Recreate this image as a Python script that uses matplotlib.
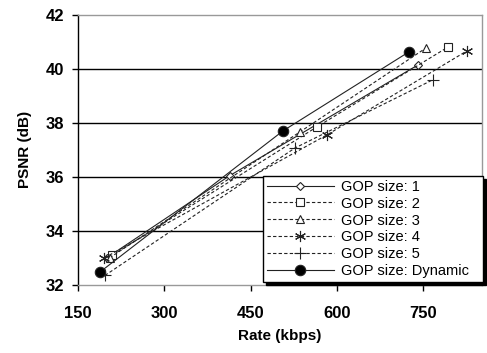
import matplotlib
matplotlib.use("Agg")
import matplotlib.pyplot as plt

plt.rcParams['font.family'] = ['Liberation Sans', 'DejaVu Sans']

labels = ["GOP size: 1", "GOP size: 2", "GOP size: 3", "GOP size: 4", "GOP size: 5", "GOP size: Dynamic"]
rates = [
    [200, 414, 741],
    [210, 565, 793],
    [205, 536, 755],
    [196, 583, 826],
    [197, 527, 767],
    [188, 506, 725],
]
psnr = [
    [33.0, 36.05, 40.15],
    [33.1, 37.85, 40.81],
    [33.0, 37.67, 40.78],
    [33.0, 37.56, 40.67],
    [32.35, 37.07, 39.60],
    [32.47, 37.70, 40.63],
]
xticks = [150, 300, 450, 600, 750]
yticks = [32, 34, 36, 38, 40, 42]

styles = [
    dict(ls='-', marker='D', ms=4, mfc='white'),
    dict(ls=(0, (3, 2)), marker='s', ms=6, mfc='white'),
    dict(ls=(0, (3, 2)), marker='^', ms=6, mfc='white'),
    dict(ls=(0, (3, 2)), marker=(6, 2, 0), ms=8, mfc='white'),
    dict(ls=(0, (3, 2)), marker='+', ms=8, mfc='white'),
    dict(ls='-', marker='o', ms=7.5, mfc='black'),
]

fig = plt.figure(figsize=(4.87, 3.53), dpi=100)
ax = fig.add_axes([0.160, 0.193, 0.830, 0.765])

for lab, xs, ys, st in zip(labels, rates, psnr, styles):
    ax.plot(xs, ys, color='#222222', lw=0.8, mec='#222222', mew=0.8, label=lab, **st)

ax.set_xlim(150, 852)
ax.set_ylim(32, 42)
ax.set_xticks(xticks)
ax.set_yticks(yticks)
for y in yticks[1:-1]:
    ax.axhline(y, color='black', lw=1.0, zorder=0)

for s in ['top', 'right', 'bottom']:
    ax.spines[s].set_color('#999999')
    ax.spines[s].set_linewidth(1.0)
ax.spines['left'].set_color('black')
ax.spines['left'].set_linewidth(1.0)
ax.tick_params(axis='both', direction='out', length=4, width=1, color='black',
               labelsize=12)
for t in ax.get_xticklabels() + ax.get_yticklabels():
    t.set_fontweight('bold')
ax.tick_params(axis='x', pad=11)
ax.tick_params(axis='y', pad=6)

ax.set_xlabel("Rate (kbps)", fontsize=11, fontweight='bold', labelpad=6)
ax.set_ylabel("PSNR (dB)", fontsize=11, fontweight='bold', labelpad=10)

leg = ax.legend(loc='lower left', bbox_to_anchor=(0.458, 0.011, 0.545, 0.40),
                mode='expand', borderaxespad=0, fontsize=10.5, frameon=True,
                fancybox=False, shadow={'color': 'black', 'alpha': 1.0},
                handlelength=4.6, borderpad=0.25, labelspacing=0.2, handletextpad=0.5)
leg.get_frame().set_edgecolor('black')
leg.get_frame().set_linewidth(1.0)

fig.savefig("out.png", dpi=100)
